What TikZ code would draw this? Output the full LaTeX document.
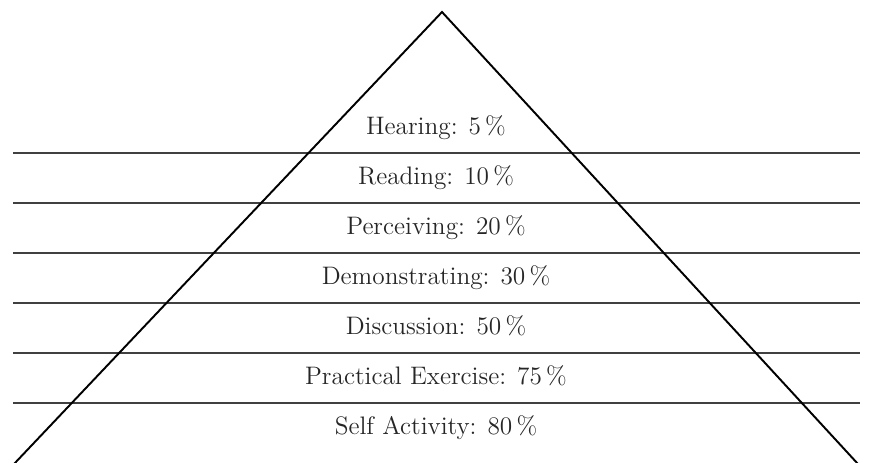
\documentclass[tikz,border=0pt]{standalone}
\usepackage{tikz}
\usetikzlibrary{positioning}

\begin{document}
\begin{tikzpicture}[x=0.02cm,y=-0.02cm,node distance=1cm,semithick]
  \tikzstyle{level}=[text=black!85,inner sep=0pt,text height=1em,text depth=0.28em,
                     font=\fontsize{14.4}{17}\selectfont]
  \tikzstyle{divider}=[draw=black!75,line width=0.8pt]
  \tikzstyle{side}=[draw=black,line width=1.1pt]

  \useasboundingbox (0,0) rectangle (869,463);

  \coordinate (apex) at (442,12);
  \coordinate (BL)   at (14,464);
  \coordinate (BR)   at (858,464);

  \foreach \i/\y in {1/153,2/203,3/253,4/303,5/353,6/403}{
    \coordinate (L\i) at (13,\y);
    \coordinate (R\i) at (860,\y);
    \path[divider] (L\i) -- (R\i);
  }

  \path[side] (BL) -- (apex) -- (BR);

  \node[level] at (436,128) (hear) {Hearing: 5\,\%};
  \node[level]         (read)  [below of=hear]  {Reading: 10\,\%};
  \node[level]         (perc)  [below of=read]  {Perceiving: 20\,\%};
  \node[level]         (demo)  [below of=perc]  {Demonstrating: 30\,\%};
  \node[level]         (disc)  [below of=demo]  {Discussion: 50\,\%};
  \node[level]         (prac)  [below of=disc]  {Practical Exercise: 75\,\%};
  \node[level]         (self)  [below of=prac]  {Self Activity: 80\,\%};
\end{tikzpicture}
\end{document}
